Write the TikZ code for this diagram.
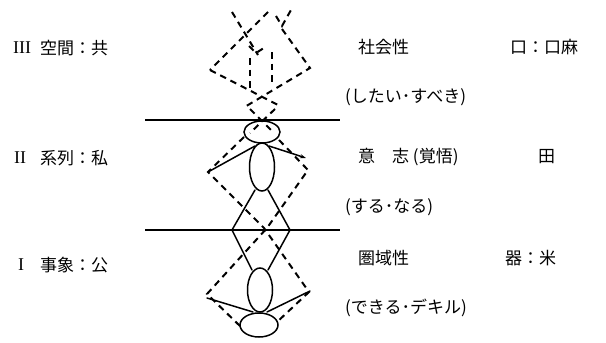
\documentclass[tikz,border=0pt]{standalone}
\usepackage{fontspec}
\setmainfont{Liberation Serif}
\newfontfamily\jp{Noto Sans CJK JP}
\usetikzlibrary{shapes.geometric,arrows.meta}
\begin{document}
\begin{tikzpicture}[x=1pt,y=-1pt,
  solidln/.style={line width=1.5pt, line cap=round},
  dashln/.style={line width=2pt, dash pattern=on 6.5pt off 5pt},
  oval/.style={draw, ellipse, line width=1.5pt, inner sep=0pt},
  lbl/.style={anchor=west, inner sep=0pt, font=\jp\fontsize{17}{17}\selectfont},
  num/.style={anchor=west, inner sep=0pt, font=\fontsize{18}{18}\selectfont}]
\useasboundingbox (0,0) rectangle (606,343);
\fill[white] (0,0) rectangle (606,343);

% horizontal level lines
\coordinate (t1L) at (145,120); \coordinate (t1R) at (340,120);
\coordinate (t2L) at (145,230); \coordinate (t2R) at (340,230);
\draw[line width=1.4pt] (t1L) -- (t1R);
\draw[line width=1.4pt] (t2L) -- (t2R);

% solid figures
\node[oval, minimum width=36pt, minimum height=22pt] (head1) at (262,132) {};
\node[oval, minimum width=25pt, minimum height=48pt] (body1) at (262,167) {};
\node[oval, minimum width=25pt, minimum height=44pt] (body2) at (260,290) {};
\node[oval, minimum width=38pt, minimum height=24pt] (head2) at (259,325) {};

\coordinate (n1L) at (255,146); \coordinate (n1R) at (269,146);
\coordinate (a1L) at (208,172); \coordinate (a1R) at (306,158);
\coordinate (f1L) at (255,190); \coordinate (f1R) at (268,190);
\coordinate (kL) at (232,230);  \coordinate (kR) at (290,230);
\coordinate (f2L) at (252,270); \coordinate (f2R) at (268,270);
\coordinate (n2L) at (253,312); \coordinate (n2R) at (267,312);
\coordinate (a2L) at (207,298); \coordinate (a2R) at (310,291);

\draw[solidln] (n1L) -- (a1L);
\draw[solidln, -{Stealth[length=6pt,width=4pt]}] (n1R) -- (a1R);
\draw[solidln] (f1L) -- (kL) -- (f2L);
\draw[solidln] (f1R) -- (kR) -- (f2R);
\draw[solidln] (n2L) -- (a2L);
\draw[solidln] (n2R) -- (a2R);

% dashed diamond around the figures
\coordinate (h1l) at (244,137); \coordinate (h1r) at (279,140);
\coordinate (L1) at (208,172);  \coordinate (R1) at (308,170);
\coordinate (x1) at (264,228);  \coordinate (x2) at (267,228);
\coordinate (L2) at (207,294);  \coordinate (R2) at (309,292);
\coordinate (h2l) at (241,327); \coordinate (h2r) at (277,322);
\draw[dashln] (h1l) -- (L1) -- (x1) -- (R2) -- (h2r);
\draw[dashln] (h1r) -- (R1) -- (x2) -- (L2) -- (h2l);

% dashed figure above the top line
\coordinate (d1) at (232,12);  \coordinate (d2) at (258,55);
\coordinate (d3) at (268,12);  \coordinate (d4) at (210,70);
\coordinate (v1) at (276,16);  \coordinate (v2) at (282,26); \coordinate (v3) at (291,10);
\coordinate (c1) at (282,29);  \coordinate (c2) at (310,68);
\coordinate (e1) at (243,108); \coordinate (e2) at (280,106);
\coordinate (b1) at (250,58);  \coordinate (b2) at (250,88);
\coordinate (b3) at (272,52);  \coordinate (b4) at (272,86);
\coordinate (s1) at (249,46);  \coordinate (s2) at (256,53); \coordinate (s3) at (267,46);
\coordinate (r1) at (250,109); \coordinate (r2) at (274,133);
\coordinate (r3) at (275,109); \coordinate (r4) at (250,133);
\draw[dashln] (d1) -- (d2);
\draw[dashln] (d3) -- (d4);
\draw[dashln] (v1) -- (v2) -- (v3);
\draw[dashln] (c1) -- (c2) -- (e1);
\draw[dashln] (d4) -- (e2);
\draw[dashln] (b1) -- (b2);
\draw[dashln] (b3) -- (b4);
\draw[dashln] (s1) -- (s2) -- (s3);
\draw[dashln] (r1) -- (r2);
\draw[dashln] (r3) -- (r4);

% left labels
\node[num] (n3) at (13,48) {III};
\node[lbl] (l3) at (40,48) {空間：共};
\node[num] (n2) at (14,158) {II};
\node[lbl] (l2) at (40,158) {系列：私};
\node[num] (n1) at (18,265) {I};
\node[lbl] (l1) at (40,265) {事象：公};

% right labels
\node[lbl] (r3a) at (358,47) {社会性};
\node[lbl] (r3b) at (510,47) {口：口麻};
\node[lbl] (r3c) at (345,97) {(したい･すべき)};
\node[lbl] (r2a) at (358,157) {意　志 (覚悟)};
\node[lbl] (r2b) at (538,157) {田};
\node[lbl] (r2c) at (345,207) {(する･なる)};
\node[lbl] (r1a) at (358,258) {圏域性};
\node[lbl] (r1b) at (505,258) {器：米};
\node[lbl] (r1c) at (345,308) {(できる･デキル)};
\end{tikzpicture}
\end{document}
